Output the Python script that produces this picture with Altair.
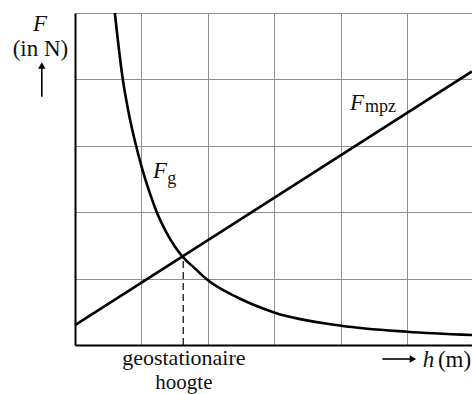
import altair as alt
import pandas as pd

# ---- data (grid units: 1 unit = one grid cell) ----
fg_h = [0.60, 0.72, 0.80, 0.92, 1.01, 1.13, 1.22, 1.38, 1.63, 1.81, 1.97, 2.48, 3.00, 4.01, 5.00, 5.98]
fg_F = [5.00, 4.00, 3.54, 3.00, 2.66, 2.28, 2.03, 1.69, 1.32, 1.15, 1.00, 0.70, 0.49, 0.29, 0.20, 0.15]

mpz_h = [0.0, 5.98]
mpz_F = [0.30, 4.12]

geo_h = [1.63]
geo_F = [1.32]

grid_vals = [1, 2, 3, 4, 5]

# text annotations (position in data units)
lbl_text = ["F", "(in N)", "F", "F", "geostationaire", "hoogte", "h", "(m)"]
lbl_x = [-0.527, -0.52, 1.175, 4.142, 1.64, 1.64, 5.24, 5.467]
lbl_y = [4.726, 4.348, 2.519, 3.544, -0.302, -0.664, -0.327, -0.327]
lbl_size = [23, 23, 23, 23, 22, 21, 23, 23]
lbl_align = ["center", "center", "left", "left", "center", "center", "left", "left"]
lbl_style = ["italic", "normal", "italic", "italic", "normal", "normal", "italic", "normal"]

sub_text = ["g", "mpz"]
sub_x = [1.39, 4.367]
sub_y = [2.43, 3.515]

# arrows
up_arrow_x = [-0.50]
up_arrow_y = [3.74]
up_arrow_y2 = [4.21]
right_arrow_x = [4.63]
right_arrow_x2 = [5.09]
right_arrow_y = [-0.211]

FONT = "Liberation Serif, Times New Roman, serif"

AX = dict(values=grid_vals, grid=True, labels=False, ticks=False, title=None,
          domainColor="#000", domainWidth=2, gridColor="#8f8f8f", gridWidth=1, gridOpacity=1)
X = alt.X("x:Q", scale=alt.Scale(domain=[0, 5.98], nice=False, zero=False), axis=alt.Axis(**AX))
Y = alt.Y("y:Q", scale=alt.Scale(domain=[0, 5], nice=False, zero=False), axis=alt.Axis(**AX))

fg_df = pd.DataFrame({"x": fg_h, "y": fg_F})
mpz_df = pd.DataFrame({"x": mpz_h, "y": mpz_F})
geo_df = pd.DataFrame({"x": geo_h, "y": [0.0], "y2": geo_F})
lbl_df = pd.DataFrame({"x": lbl_x, "y": lbl_y, "t": lbl_text, "a": lbl_align, "s": lbl_style,
                       "fs": lbl_size})
sub_df = pd.DataFrame({"x": sub_x, "y": sub_y, "t": sub_text})
up_df = pd.DataFrame({"x": up_arrow_x, "y": up_arrow_y, "y2": up_arrow_y2})
up_head_df = pd.DataFrame({"x": up_arrow_x, "y": up_arrow_y2})
rt_df = pd.DataFrame({"x": right_arrow_x, "x2": right_arrow_x2, "y": right_arrow_y})
rt_head_df = pd.DataFrame({"x": right_arrow_x2, "y": right_arrow_y})

fg = alt.Chart(fg_df).mark_line(color="#000", strokeWidth=2.6, interpolate="monotone").encode(x=X, y=Y)
mpz = alt.Chart(mpz_df).mark_line(color="#000", strokeWidth=2.6).encode(x=X, y=Y)
geo = alt.Chart(geo_df).mark_rule(color="#000", strokeWidth=1.2, strokeDash=[7, 4]).encode(
    x=X, y=Y, y2="y2:Q")

labels = []
for align in ["center", "left"]:
    for style in ["italic", "normal"]:
        d = lbl_df[(lbl_df.a == align) & (lbl_df.s == style)]
        if len(d) == 0:
            continue
        labels.append(alt.Chart(d).mark_text(font=FONT, fontStyle=style, align=align,
                                             baseline="alphabetic", color="#111").encode(
            x=X, y=Y, text="t:N", size=alt.Size("fs:Q", scale=None, legend=None)))

subs = alt.Chart(sub_df).mark_text(font=FONT, fontSize=18, align="left", baseline="alphabetic",
                                   color="#111").encode(x=X, y=Y, text="t:N")

up_line = alt.Chart(up_df).mark_rule(color="#000", strokeWidth=1.6).encode(x=X, y=Y, y2="y2:Q")
up_head = alt.Chart(up_head_df).mark_point(shape="triangle-up", filled=True, color="#000", size=55,
                                           opacity=1).encode(x=X, y=Y)
rt_line = alt.Chart(rt_df).mark_rule(color="#000", strokeWidth=1.6).encode(x=X, x2="x2:Q", y=Y)
rt_head = alt.Chart(rt_head_df).mark_point(shape="triangle-right", filled=True, color="#000", size=55,
                                           opacity=1).encode(x=X, y=Y)

chart = alt.layer(geo, fg, mpz, *labels, subs, up_line, up_head, rt_line, rt_head).properties(
    width=397, height=332,
    autosize=alt.AutoSizeParams(type="none"),
    padding={"left": 75, "top": 13, "right": 0, "bottom": 49},
    background="#ffffff",
).configure_view(stroke=None)

chart.save("out.html", embed_options={"renderer": "svg", "actions": False})
